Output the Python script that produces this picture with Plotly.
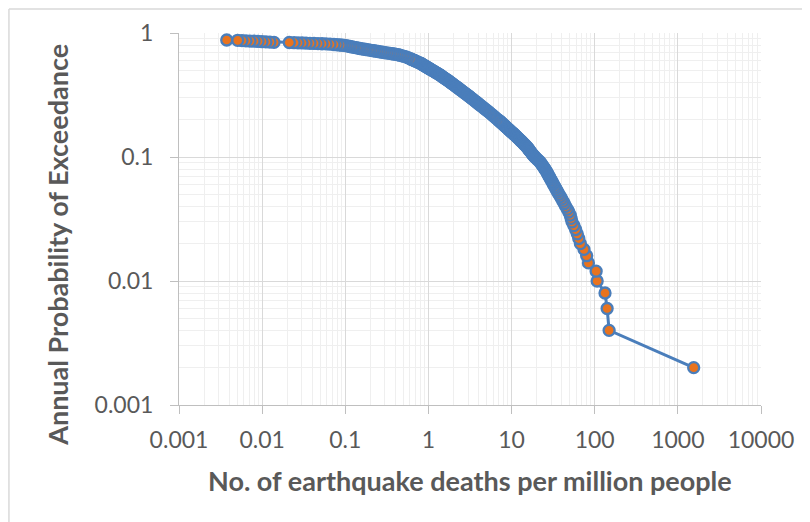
import plotly.graph_objects as go

# Annual probability of exceedance (y) vs deaths per million (x), ordered by rank
prob = [0.002, 0.004, 0.006, 0.008, 0.010, 0.012, 0.014, 0.016, 0.018, 0.020,
        0.022, 0.024, 0.026, 0.028, 0.030, 0.032, 0.034, 0.036, 0.038, 0.040,
        0.042, 0.044, 0.046, 0.048, 0.050, 0.052, 0.054, 0.056, 0.058, 0.060,
        0.062, 0.064, 0.066, 0.068, 0.070, 0.072, 0.074, 0.076, 0.078, 0.080,
        0.082, 0.084, 0.086, 0.088, 0.090, 0.092, 0.094, 0.096, 0.098, 0.100,
        0.102, 0.104, 0.106, 0.108, 0.110, 0.112, 0.114, 0.116, 0.118, 0.120,
        0.122, 0.124, 0.126, 0.128, 0.130, 0.132, 0.134, 0.136, 0.138, 0.140,
        0.142, 0.144, 0.146, 0.148, 0.150, 0.152, 0.154, 0.156, 0.158, 0.160,
        0.162, 0.164, 0.166, 0.168, 0.170, 0.172, 0.174, 0.176, 0.178, 0.180,
        0.182, 0.184, 0.186, 0.188, 0.190, 0.192, 0.194, 0.196, 0.198, 0.200,
        0.205, 0.210, 0.215, 0.220, 0.225, 0.230, 0.235, 0.240, 0.245, 0.250,
        0.255, 0.260, 0.265, 0.270, 0.275, 0.280, 0.285, 0.290, 0.295, 0.300,
        0.305, 0.310, 0.315, 0.320, 0.325, 0.330, 0.335, 0.340, 0.345, 0.350,
        0.355, 0.360, 0.365, 0.370, 0.375, 0.380, 0.385, 0.390, 0.395, 0.400,
        0.405, 0.410, 0.415, 0.420, 0.425, 0.430, 0.435, 0.440, 0.445, 0.450,
        0.455, 0.460, 0.465, 0.470, 0.475, 0.480, 0.485, 0.490, 0.495, 0.500,
        0.505, 0.510, 0.515, 0.520, 0.525, 0.530, 0.535, 0.540, 0.545, 0.550,
        0.555, 0.560, 0.565, 0.570, 0.575, 0.580, 0.585, 0.590, 0.595, 0.600,
        0.605, 0.610, 0.615, 0.620,
        0.632, 0.642, 0.649, 0.655, 0.662, 0.668, 0.673, 0.677, 0.680, 0.685,
        0.688, 0.692, 0.696, 0.700, 0.705, 0.709, 0.713, 0.719, 0.722, 0.727,
        0.732, 0.736, 0.740, 0.746, 0.750, 0.755, 0.761, 0.767, 0.772, 0.778,
        0.784, 0.790, 0.794, 0.797, 0.800,
        0.804, 0.808, 0.812, 0.817, 0.819, 0.821, 0.824, 0.826, 0.828, 0.831,
        0.833, 0.835, 0.838, 0.841, 0.845, 0.848, 0.851, 0.856, 0.859, 0.860,
        0.864, 0.868, 0.873, 0.878]

deaths = [1550, 149, 141, 133, 107, 104, 84, 80, 74.3, 67.3,
          64.3, 61.7, 58.9, 56.1, 53.3, 52.0, 50.8, 48.9, 46.8, 44.8,
          43.1, 41.5, 40.0, 38.6, 37.2, 36.0, 34.9, 33.9, 33.0, 31.9,
          31.2, 30.4, 29.6, 28.9, 28.2, 27.6, 27.0, 26.4, 25.8, 25.2,
          24.6, 23.9, 23.4, 22.9, 22.3, 21.7, 21.0, 20.3, 19.7, 19.1,
          18.6, 18.1, 17.7, 17.3, 17.0, 16.6, 16.3, 16.0, 15.7, 15.4,
          15.0, 14.7, 14.3, 14.0, 13.7, 13.4, 13.1, 12.8, 12.5, 12.25,
          12.0, 11.7, 11.5, 11.25, 11.0, 10.8, 10.55, 10.35, 10.1, 9.88,
          9.69, 9.50, 9.30, 9.14, 8.94, 8.77, 8.62, 8.46, 8.32, 8.15,
          8.02, 7.88, 7.74, 7.59, 7.48, 7.34, 7.26, 7.08, 6.95, 6.83,
          6.53, 6.27, 6.03, 5.78, 5.56, 5.36, 5.14, 4.94, 4.74, 4.58,
          4.41, 4.24, 4.10, 3.95, 3.83, 3.69, 3.58, 3.47, 3.35, 3.25,
          3.15, 3.06, 2.96, 2.87, 2.78, 2.70, 2.62, 2.54, 2.47, 2.40,
          2.34, 2.27, 2.21, 2.15, 2.09, 2.04, 1.99, 1.94, 1.88, 1.84,
          1.80, 1.75, 1.71, 1.66, 1.62, 1.58, 1.54, 1.50, 1.47, 1.43,
          1.40, 1.37, 1.33, 1.30, 1.26, 1.23, 1.20, 1.17, 1.14, 1.11,
          1.08, 1.06, 1.03, 1.007, 0.982, 0.961, 0.940, 0.918, 0.897, 0.877,
          0.855, 0.837, 0.820, 0.803, 0.777, 0.753, 0.735, 0.713, 0.695, 0.675,
          0.658, 0.638, 0.622, 0.604,
          0.567, 0.537, 0.508, 0.481, 0.455, 0.431, 0.408, 0.385, 0.365, 0.345,
          0.327, 0.309, 0.292, 0.277, 0.262, 0.248, 0.234, 0.221, 0.210, 0.198,
          0.188, 0.177, 0.168, 0.159, 0.150, 0.142, 0.135, 0.127, 0.121, 0.114,
          0.108, 0.102, 0.0966, 0.0912, 0.0864,
          0.0795, 0.0731, 0.0655, 0.0586, 0.0525, 0.0470, 0.0421, 0.0376, 0.0337, 0.0302,
          0.0270, 0.0242, 0.0212, 0.0139, 0.0124, 0.0111, 0.00996, 0.00892, 0.00798, 0.00714,
          0.00639, 0.00572, 0.00508, 0.00375]

x_tick_vals = [0.001, 0.01, 0.1, 1, 10, 100, 1000, 10000]
x_tick_text = ["0.001", "0.01", "0.1", "1", "10", "100", "1000", "10000"]
y_tick_vals = [0.001, 0.01, 0.1, 1]
y_tick_text = ["0.001", "0.01", "0.1", "1"]

x_title = "No. of earthquake deaths per million people"
y_title = "Annual Probability of Exceedance"

BLUE = "#4A7EBB"
ORANGE = "#E8731E"
TXT = "#595959"
FONT = "Lato"

fig = go.Figure()
fig.add_trace(go.Scatter(
    x=deaths, y=prob, mode="lines+markers",
    line=dict(color=BLUE, width=3),
    marker=dict(size=11, color=ORANGE, line=dict(color=BLUE, width=2.3)),
    showlegend=False, hoverinfo="x+y",
))

axis_common = dict(
    type="log", showgrid=True, gridcolor="#D9D9D9", gridwidth=1,
    minor=dict(dtick="D1", showgrid=True, gridcolor="#EFEFEF", gridwidth=1, ticks=""),
    showline=True, linecolor="#BFBFBF", linewidth=1,
    ticks="outside", ticklen=8, tickcolor="#BFBFBF", tickwidth=1,
    tickfont=dict(family=FONT, size=23, color=TXT),
    zeroline=False, automargin=False,
)
fig.update_xaxes(range=[-3, 4], tickmode="array", tickvals=x_tick_vals,
                 ticktext=x_tick_text, ticklabelstandoff=6, **axis_common)
fig.update_yaxes(range=[-3, 0], tickmode="array", tickvals=y_tick_vals,
                 ticktext=y_tick_text, ticklabelstandoff=12, **axis_common)

fig.add_annotation(text=f"<b>{x_title}</b>", xref="paper", yref="paper",
                   x=0.5, y=-0.204, xanchor="center", yanchor="middle",
                   showarrow=False, font=dict(family=FONT, size=27, color=TXT))
fig.add_annotation(text=f"<b>{y_title}</b>", xref="paper", yref="paper",
                   x=-0.21, y=0.43, xanchor="center", yanchor="middle", textangle=-90,
                   showarrow=False, font=dict(family=FONT, size=27, color=TXT))

# chart-area border (left and top edges visible), at the figure's own edge
fig.add_shape(type="line", xref="paper", yref="paper", x0=-0.2922, x1=-0.2922,
              y0=1.0645, y1=-0.33, line=dict(color="#D9D9D9", width=1.5))
fig.add_shape(type="line", xref="paper", yref="paper", x0=-0.2922, x1=1.1,
              y0=1.0645, y1=1.0645, line=dict(color="#D9D9D9", width=1.5))

# page body has an 8px margin, so the figure is drawn 8px in from the window edge
fig.update_layout(
    width=802, height=514, autosize=False,
    margin=dict(l=171, r=49, t=25, b=117),
    paper_bgcolor="white", plot_bgcolor="white",
    font=dict(family=FONT, color=TXT),
)

fig.write_html("out.html")
